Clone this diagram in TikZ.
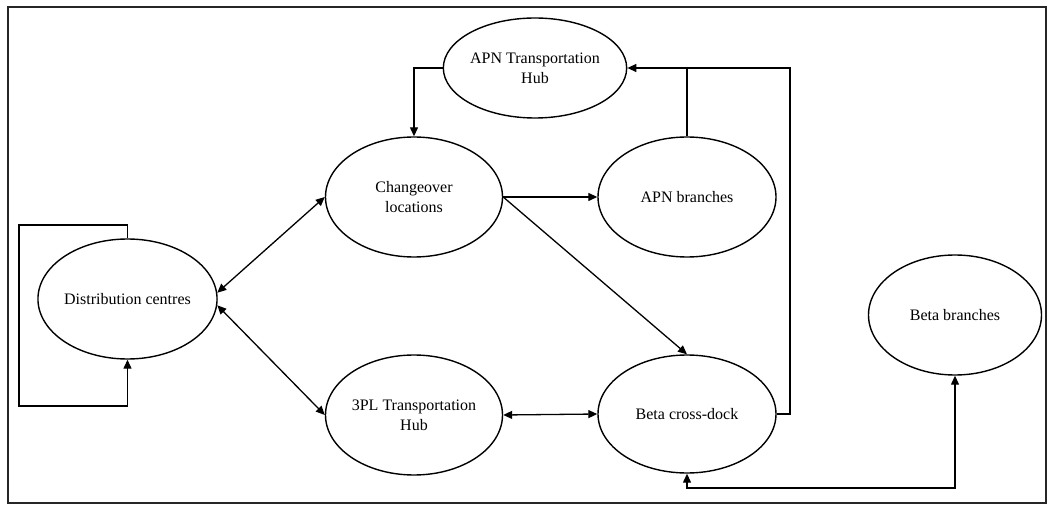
\documentclass[tikz,border=0pt]{standalone}
\usepackage{fontspec}
\setmainfont{Liberation Serif}
\usetikzlibrary{shapes.geometric,arrows.meta}
\begin{document}
\begin{tikzpicture}[x=1pt,y=-1pt,
 el/.style={draw, ellipse, line width=1.4pt, inner sep=0pt, align=center, font=\fontsize{16}{20}\selectfont},
 conn/.style={line width=1.3pt},
 tip/.tip={Triangle[length=9pt,width=8pt]},
 arr/.style={conn, -tip},
 darr/.style={conn, tip-tip}]
\useasboundingbox (0,0) rectangle (1053,505);
\draw[line width=1.2pt, black!85] (8,7) rectangle (1046,503);
% nodes
\node[el, minimum width=179pt, minimum height=120pt] (dc) at (127.5,299) {Distribution centres};
\node[el, minimum width=177pt, minimum height=120pt] (chg) at (414,197) {Changeover\\locations};
\node[el, minimum width=177pt, minimum height=100pt] (hub) at (535,68) {APN Transportation\\Hub};
\node[el, minimum width=178pt, minimum height=120pt] (apnb) at (687,197) {APN branches};
\node[el, minimum width=177pt, minimum height=120pt] (tpl) at (414,415) {3PL Transportation\\Hub};
\node[el, minimum width=178pt, minimum height=118pt] (bcd) at (687,414) {Beta cross-dock};
\node[el, minimum width=173pt, minimum height=120pt] (bb) at (955,315) {Beta branches};
% helper coordinates
\coordinate (lt) at (19,225);
\coordinate (lb) at (19,406);
\coordinate (low) at (0,488);
\coordinate (rt) at (790,68);
% connectors
\draw[arr] (dc.north) |- (lt) -- (lb) -| (dc.south);
\draw[darr] (dc.4) -- (chg.west);
\draw[darr] (dc.-4) -- (tpl.west);
\draw[arr] (chg.east) -- (apnb.west);
\draw[arr] (chg.east) -- (bcd.north);
\draw[arr] (hub.west) -| (chg.north);
\draw[conn] (apnb.north) -- (apnb.north |- hub.east);
\draw[arr] (bcd.east) -| (rt) -- (hub.east);
\draw[darr] (tpl.east) -- (bcd.west);
\draw[darr] (bb.south) -- (bb.south |- low) -| (bcd.south);
\end{tikzpicture}
\end{document}
